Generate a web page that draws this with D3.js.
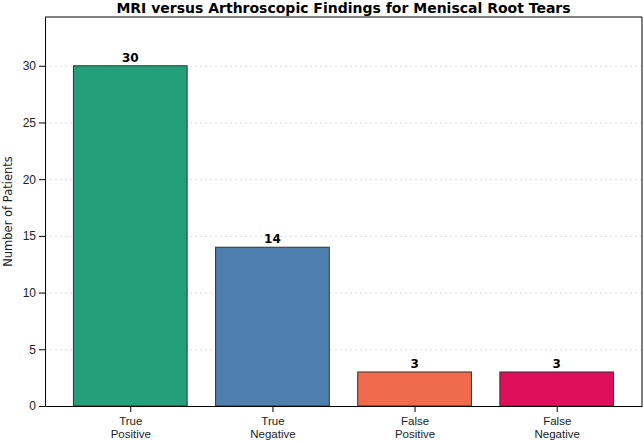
<!DOCTYPE html>
<html><head><meta charset="utf-8">
<script src="https://cdn.jsdelivr.net/npm/d3@7"></script>
<style>body{margin:0;background:#fff}</style>
</head><body><div id="chart"></div>
<script>
const categories = ["True\nPositive", "True\nNegative", "False\nPositive", "False\nNegative"];
const values = [30, 14, 3, 3];
const colors = ["#23a07a", "#4f7fac", "#f06a4c", "#df0f5c"];
const yTicks = [0, 5, 10, 15, 20, 25, 30];

const width = 643, height = 441;
const margin = { top: 17, right: 1, bottom: 35, left: 45 };
const innerW = width - margin.left - margin.right;
const innerH = height - margin.top - margin.bottom;

const svg = d3.select("#chart").append("svg")
    .attr("width", width).attr("height", height)
    .style("font-family", "DejaVu Sans, sans-serif");
const g = svg.append("g").attr("transform", `translate(${margin.left},${margin.top})`);

const x = d3.scaleLinear().domain([-0.6, 3.6]).range([0, innerW]);
const y = d3.scaleLinear().domain([0, 34.3]).range([innerH, 0]);

// Gridlines
g.append("g").call(d3.axisLeft(y).tickValues(yTicks).tickSize(-innerW).tickFormat(""))
    .call(s => s.select(".domain").remove())
    .selectAll("line").style("stroke", "#ccc").style("stroke-dasharray", "2,3").style("opacity", 0.7);

g.selectAll("rect.bar").data(values).join("rect").attr("class", "bar")
    .attr("x", (d, i) => x(i - 0.4))
    .attr("width", x(0.8) - x(0))
    .attr("y", d => y(d))
    .attr("height", d => innerH - y(d))
    .attr("fill", (d, i) => colors[i])
    .attr("stroke", "#333").attr("stroke-width", 1);

g.selectAll("text.val").data(values).join("text").attr("class", "val")
    .attr("x", (d, i) => x(i)).attr("y", d => y(d) - 4)
    .attr("text-anchor", "middle").style("font-size", "12px").style("font-weight", "bold")
    .text(d => d);

// Axes
g.append("g").call(d3.axisLeft(y).tickValues(yTicks).tickSizeOuter(0))
    .selectAll("text").style("font-size", "12px").style("fill", "#222");
const xa = g.append("g").attr("transform", `translate(0,${innerH})`)
    .call(d3.axisBottom(x).tickValues([0, 1, 2, 3]).tickFormat("").tickSizeOuter(0));
xa.selectAll(".tick").each(function (d) {
    const lines = categories[d].split("\n");
    const t = d3.select(this).append("text").attr("fill", "#222")
        .attr("text-anchor", "middle").style("font-size", "11.5px").attr("y", 12);
    lines.forEach((l, k) => t.append("tspan").attr("x", 0).attr("dy", k ? "1.1em" : "0.6em").text(l));
});
g.append("line").attr("x1", 0).attr("x2", innerW).attr("y1", 0).attr("y2", 0).attr("stroke", "#000");
g.append("line").attr("x1", innerW).attr("x2", innerW).attr("y1", 0).attr("y2", innerH).attr("stroke", "#000");

g.append("text").attr("transform", "rotate(-90)")
    .attr("x", -innerH / 2).attr("y", -33).attr("text-anchor", "middle")
    .style("font-size", "11.5px").style("fill", "#222").text("Number of Patients");

svg.append("text").attr("x", margin.left + innerW / 2).attr("y", 13)
    .attr("text-anchor", "middle").style("font-size", "14px").style("font-weight", "bold")
    .text("MRI versus Arthroscopic Findings for Meniscal Root Tears");
</script></body></html>
